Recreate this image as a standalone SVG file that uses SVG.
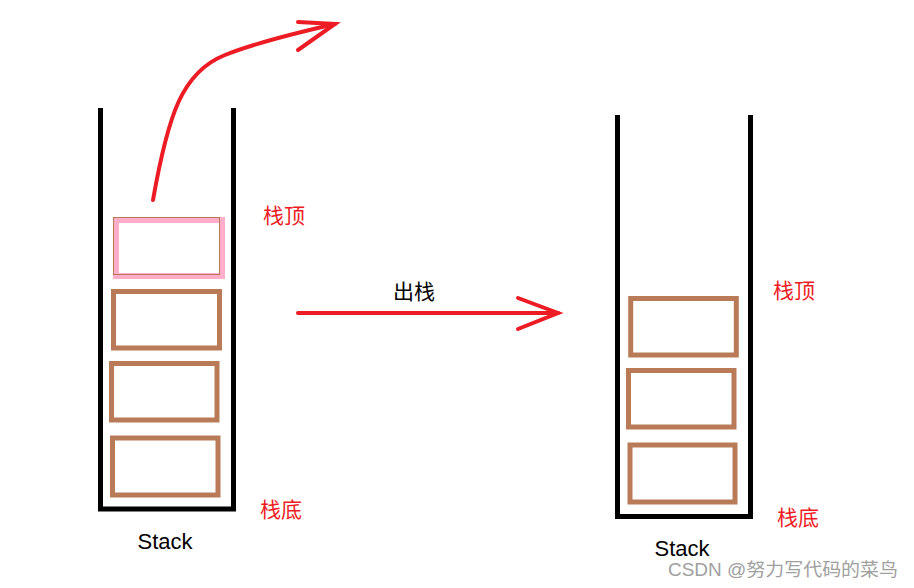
<svg xmlns="http://www.w3.org/2000/svg" width="914" height="588" viewBox="0 0 914 588">
<defs>
<style>
.wall{fill:none;stroke:#000;stroke-width:5;stroke-linejoin:miter;stroke-linecap:butt}
.box{fill:none;stroke:#B97A57;stroke-width:5}
.pink{fill:none;stroke:#FFAEC9;stroke-width:6}
.thin{fill:none;stroke:#B97A57;stroke-width:1}
.arrow{fill:none;stroke:#ED1C24;stroke-width:4;stroke-linecap:round;stroke-linejoin:miter}
.lbl{font-family:"Liberation Sans","Noto Sans CJK SC",sans-serif;font-size:21px;fill:#ED1C24}
.blk{font-family:"Liberation Sans","Noto Sans CJK SC",sans-serif;font-size:21px;fill:#000}
.stk{font-family:"Liberation Sans","Noto Sans CJK SC",sans-serif;font-size:22px;fill:#000}
.wm{font-family:"Liberation Sans","Noto Sans CJK SC",sans-serif;font-size:18px;fill:#A0A0A0}
</style>
</defs>
<rect width="914" height="588" fill="#fff"/>
<g id="stack-left">
<path class="wall" d="M100.5,108 V509 H233.5 V108"/>
<g id="left-top-box">
<rect class="pink" x="116" y="220" width="106" height="56"/>
<rect class="thin" x="113.5" y="217.5" width="106" height="57"/>
</g>
<rect id="left-box-1" class="box" x="113.5" y="291.5" width="106" height="56.5"/>
<rect id="left-box-2" class="box" x="111.5" y="363.5" width="105.5" height="56.5"/>
<rect id="left-box-3" class="box" x="112.5" y="438" width="105.5" height="57"/>
<text class="stk" x="165" y="549" text-anchor="middle">Stack</text>
<text id="left-top-label" class="lbl" x="263" y="223">栈顶</text>
<text id="left-bottom-label" class="lbl" x="260" y="517">栈底</text>
</g>
<g id="stack-right">
<path class="wall" d="M617.5,115 V516.5 H750.5 V115"/>
<rect id="right-box-1" class="box" x="630.7" y="298.5" width="105.6" height="56.5"/>
<rect id="right-box-2" class="box" x="628.5" y="370.5" width="105.5" height="56.5"/>
<rect id="right-box-3" class="box" x="630" y="445" width="105" height="57"/>
<text class="stk" x="682" y="556" text-anchor="middle">Stack</text>
<text id="right-top-label" class="lbl" x="773" y="298">栈顶</text>
<text id="right-bottom-label" class="lbl" x="777" y="525">栈底</text>
</g>
<g id="connectors">
<path class="arrow" d="M153,200 C168,115 182,72 225,55 C255,43 300,32 335,24"/>
<polyline class="arrow" points="298,22 335,24 298,50"/>
<path class="arrow" d="M298,313 H558"/>
<polyline class="arrow" points="518,298 558,313 518,329"/>
<text class="blk" x="393" y="299">出栈</text>
</g>
<text class="wm" x="668" y="576" textLength="230" lengthAdjust="spacingAndGlyphs">CSDN @努力写代码的菜鸟</text>
</svg>
